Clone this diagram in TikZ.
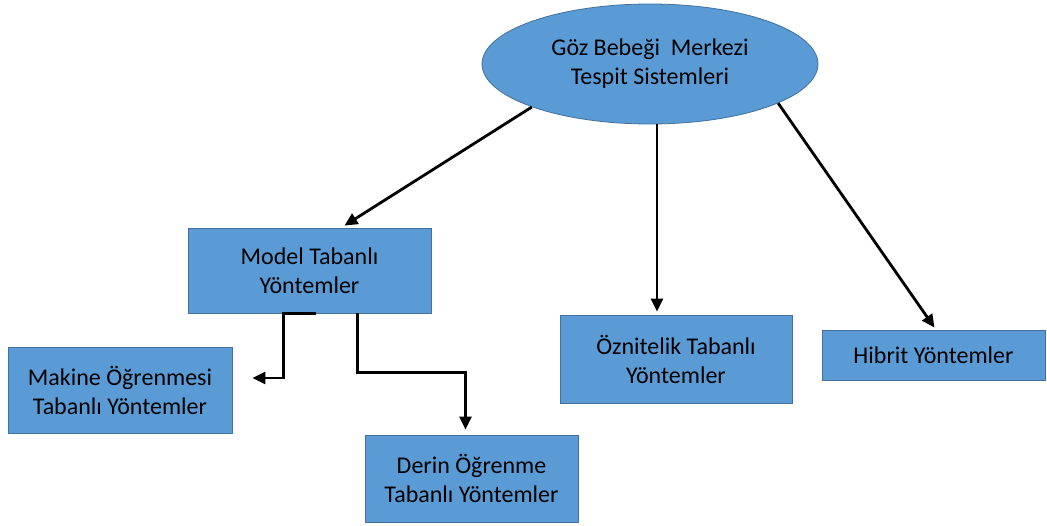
\documentclass[tikz,border=0pt]{standalone}
\usepackage{fontspec}
\setmainfont{Carlito}
\usetikzlibrary{positioning, arrows.meta, shapes.geometric}
\definecolor{boxfill}{HTML}{5B9BD5}
\definecolor{boxline}{HTML}{41719C}

\begin{document}
\begin{tikzpicture}[
    x=1pt, y=-1pt,
    box/.style={rectangle, draw=boxline, fill=boxfill, line width=0.8pt, inner sep=0pt, align=center, font=\fontsize{24}{29}\selectfont},
    oval/.style={ellipse, draw=boxline, fill=boxfill, line width=0.8pt, inner sep=0pt, align=center, font=\fontsize{24}{29}\selectfont},
    arrow/.style={-{Triangle[length=13pt, width=12pt]}, line width=2.8pt}
  ]
    \useasboundingbox (0,0) rectangle (1047,525);

    \node[oval, minimum width=336pt, minimum height=120pt] (goz) at (650,64) {Göz Bebeği~ Merkezi\\Tespit Sistemleri};
    \node[box, minimum width=243pt, minimum height=85pt] (model) at (309.5,270.5) {Model Tabanlı\\Yöntemler};
    \node[box, minimum width=224pt, minimum height=86pt] (makine) at (120,390) {Makine Öğrenmesi\\Tabanlı Yöntemler};
    \node[box, minimum width=213pt, minimum height=87pt] (derin) at (471.5,478.5) {Derin Öğrenme\\Tabanlı Yöntemler};
    \node[box, minimum width=232pt, minimum height=88pt] (oznit) at (676,359) {Öznitelik Tabanlı\\Yöntemler};
    \node[box, minimum width=223pt, minimum height=50pt] (hibrit) at (933.5,355) {Hibrit Yöntemler};

    \draw[arrow] (goz.200) -- ([xshift=35pt,yshift=2pt]model.north);
    \draw[arrow] ([xshift=7pt]goz.south) -- ([xshift=-19pt,yshift=3pt]oznit.north);
    \draw[arrow] (goz.-17) -- ([xshift=1pt,yshift=2pt]hibrit.north);
    \draw[arrow] ([xshift=6pt]model.south) -- ++(-32,0) |- ([xshift=20pt,yshift=12pt]makine.east);
    \draw[arrow] ([xshift=48pt]model.south) -- ++(0,59) -| ([xshift=-6pt,yshift=5pt]derin.north);
\end{tikzpicture}
\end{document}
